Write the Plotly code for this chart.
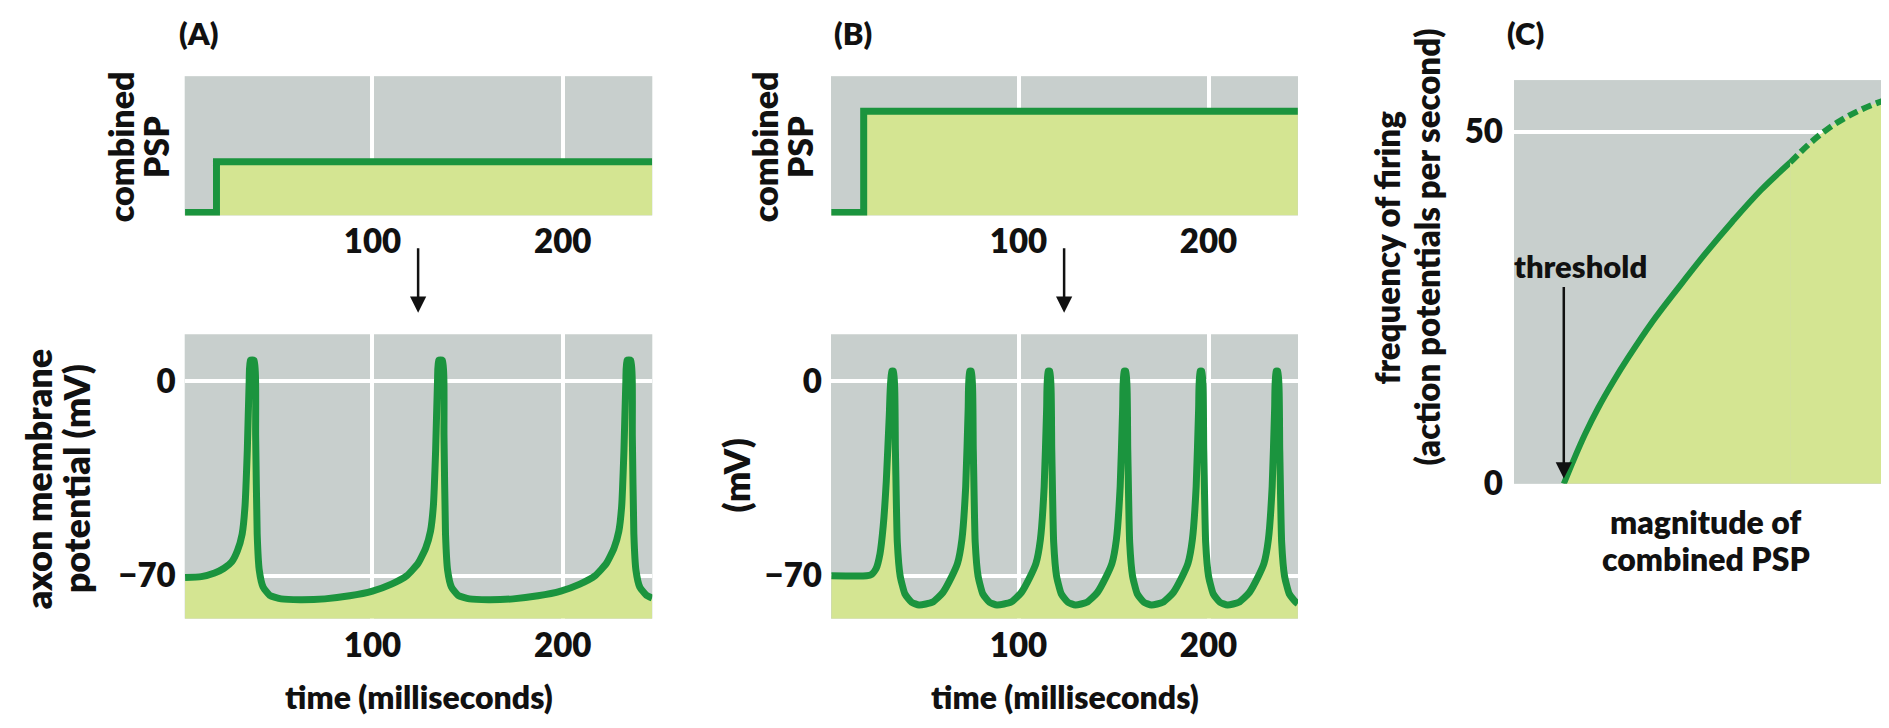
import plotly.graph_objects as go

W, H = 1889, 728

# ---------------- data ----------------
psp_time_A = [1.5, 18.0, 247.0]
psp_A = [0, 1, 1]
psp_time_B = [1.5, 18.5, 247.0]
psp_B = [0, 2, 2]

vA_t = [1.5, 10, 17, 22, 26, 29, 31.5, 33, 34.2, 35.2, 35.8, 37.8, 38.6, 39.4, 40.5, 42.5, 46, 52, 62, 75,
        88, 100, 110, 118, 124, 128, 130.5, 132, 133.2, 134.2, 134.8, 136.8, 137.6, 138.4, 139.5, 141.5,
        145, 151, 161, 174, 187, 199, 209, 217, 223, 227, 229.5, 231, 232.2, 233.2, 233.8, 235.8, 236.6,
        237.4, 238.5, 240.5, 244, 247]
vA_mv = [-70.6, -70.3, -69, -67.3, -65, -61, -55, -45, -25, 0, 7.4, 7.4, -20, -55, -68, -74, -77, -78.3, -78.6, -78.3,
         -77.2, -75.5, -73, -70, -65.5, -60, -54, -45, -25, 0, 7.4, 7.4, -20, -55, -68, -74,
         -77, -78.3, -78.6, -78.3, -77.2, -75.5, -73, -70, -65.5, -60, -54, -45, -25, 0, 7.4, 7.4, -20,
         -55, -68, -74, -77, -78]

vB_t = [1.5, 20, 22.7, 25, 27.1, 28.8, 30.4, 32, 33.2, 34.2,
        35.2, 36.2, 37.7, 40.2, 43.7, 47.7,
        54.7, 60.2, 64.7, 67.9, 70.2, 72.2, 73.5, 74.2, 75.2,
        76.2, 77.2, 78.7, 81.2, 84.7, 88.7,
        96, 101.5, 106, 109.2, 111.5, 113.5, 114.8, 115.5, 116.5,
        117.5, 118.5, 120, 122.5, 126, 130,
        136, 141.5, 146, 149.2, 151.5, 153.5, 154.8, 155.5, 156.5,
        157.5, 158.5, 160, 162.5, 166, 170,
        176, 181.5, 186, 189.2, 191.5, 193.5, 194.8, 195.5, 196.5,
        197.5, 198.5, 200, 202.5, 206, 210,
        216, 221.5, 226, 229.2, 231.5, 233.5, 234.8, 235.5, 236.5,
        237.5, 238.5, 240, 242.5, 246, 247]
vB_mv = [-70, -70, -69.5, -67.5, -62, -52, -36, -12, 3.5, 3.5,
         -25, -58, -70, -76.5, -79.5, -80.5,
         -79.5, -76, -70.5, -65.5, -57, -38, -10, 3.5, 3.5,
         -25, -58, -70, -76.5, -79.5, -80.5,
         -79.5, -76, -70.5, -65.5, -57, -38, -10, 3.5, 3.5,
         -25, -58, -70, -76.5, -79.5, -80.5,
         -79.5, -76, -70.5, -65.5, -57, -38, -10, 3.5, 3.5,
         -25, -58, -70, -76.5, -79.5, -80.5,
         -79.5, -76, -70.5, -65.5, -57, -38, -10, 3.5, 3.5,
         -25, -58, -70, -76.5, -79.5, -80.5,
         -79.5, -76, -70.5, -65.5, -57, -38, -10, 3.5, 3.5,
         -25, -58, -70, -76.5, -79.5, -80]

c_mag_solid = [13, 15.5, 18.5, 22, 26, 29.8, 36, 43.3, 50, 57, 64.5, 72.1]
c_freq_solid = [0, 3.3, 7.0, 10.8, 14.6, 17.9, 22.9, 28.1, 32.7, 37.2, 41.7, 45.6]
c_mag_dash = [72.1, 77, 81.5, 86, 91, 96, 100]
c_freq_dash = [45.6, 48.2, 50.2, 51.8, 53.2, 54.3, 55.0]
threshold_mag = 13

time_ticks = [100, 200]
mv_ticks = [0, -70]
mv_ticktext = ["0", "\u221270"]
freq_ticks = [0, 50]
arrow_time = 124

# ---------------- style ----------------
GRAY = "#c8cfcd"
FILL = "#d4e592"
LINE = "#1b943e"
TXT = "#111111"
FONT = "Lato"
WEIGHT = 800
LW = 7

t_range = [1.3, 247.1]
psp_range = [-0.058, 2.69]
mv_range = [-85.4, 16.8]
c_x_range = [0, 100]
c_y_range = [0, 57.3]


def px_x(p):
    return p / W


def px_y(p):
    return 1 - p / H


fig = go.Figure()

# A top
fig.add_trace(go.Scatter(x=[psp_time_A[0], psp_time_A[-1]], y=[psp_range[0]] * 2, mode="lines",
                         line=dict(width=0), hoverinfo="skip", showlegend=False, xaxis="x", yaxis="y"))
fig.add_trace(go.Scatter(x=psp_time_A, y=psp_A, mode="lines", line=dict(color=LINE, width=LW, shape="hv"),
                         fill="tonexty", fillcolor=FILL, showlegend=False, xaxis="x", yaxis="y"))
# A bottom
fig.add_trace(go.Scatter(x=[vA_t[0], vA_t[-1]], y=[mv_range[0]] * 2, mode="lines",
                         line=dict(width=0), hoverinfo="skip", showlegend=False, xaxis="x2", yaxis="y2"))
fig.add_trace(go.Scatter(x=vA_t, y=vA_mv, mode="lines",
                         line=dict(color=LINE, width=LW, shape="spline", smoothing=0.5),
                         fill="tonexty", fillcolor=FILL, showlegend=False, xaxis="x2", yaxis="y2"))
# B top
fig.add_trace(go.Scatter(x=[psp_time_B[0], psp_time_B[-1]], y=[psp_range[0]] * 2, mode="lines",
                         line=dict(width=0), hoverinfo="skip", showlegend=False, xaxis="x3", yaxis="y3"))
fig.add_trace(go.Scatter(x=psp_time_B, y=psp_B, mode="lines", line=dict(color=LINE, width=LW, shape="hv"),
                         fill="tonexty", fillcolor=FILL, showlegend=False, xaxis="x3", yaxis="y3"))
# B bottom
fig.add_trace(go.Scatter(x=[vB_t[0], vB_t[-1]], y=[mv_range[0]] * 2, mode="lines",
                         line=dict(width=0), hoverinfo="skip", showlegend=False, xaxis="x4", yaxis="y4"))
fig.add_trace(go.Scatter(x=vB_t, y=vB_mv, mode="lines",
                         line=dict(color=LINE, width=LW, shape="spline", smoothing=0.5),
                         fill="tonexty", fillcolor=FILL, showlegend=False, xaxis="x4", yaxis="y4"))
# C
fig.add_trace(go.Scatter(x=c_mag_solid, y=c_freq_solid, mode="lines",
                         line=dict(color=LINE, width=6, shape="spline"),
                         fill="tozeroy", fillcolor=FILL, showlegend=False, xaxis="x5", yaxis="y5"))
fig.add_trace(go.Scatter(x=c_mag_dash, y=c_freq_dash, mode="lines",
                         line=dict(color=LINE, width=6, shape="spline", dash="10px,5px"),
                         fill="tozeroy", fillcolor=FILL, showlegend=False, xaxis="x5", yaxis="y5"))

tickfont = dict(family=FONT, size=33, color=TXT, weight=WEIGHT)

A_x = [px_x(176.7), px_x(644.3)]
B_x = [px_x(823), px_x(1290)]
TOP_y = [px_y(213), px_y(70)]
BOT_y = [px_y(627), px_y(335)]
C_x = [px_x(1506), 1.0]
C_y = [px_y(488.6), px_y(74)]


def xa(domain, anchor, show=True):
    return dict(domain=domain, anchor=anchor, range=t_range, tickvals=time_ticks, showgrid=True,
                gridcolor="white", gridwidth=4, zeroline=False, showline=False, showticklabels=show,
                tickfont=tickfont, ticks="", ticklabelstandoff=4, fixedrange=True)


fig.update_layout(
    width=W, height=H, margin=dict(l=0, r=0, t=0, b=0),
    paper_bgcolor="white", plot_bgcolor=GRAY, showlegend=False,
    xaxis=xa(A_x, "y"),
    yaxis=dict(domain=TOP_y, anchor="x", range=psp_range, showgrid=False, zeroline=False,
               showticklabels=False, fixedrange=True),
    xaxis2=xa(A_x, "y2"),
    yaxis2=dict(domain=BOT_y, anchor="x2", range=mv_range, tickvals=mv_ticks, ticktext=mv_ticktext,
                showgrid=True, gridcolor="white", gridwidth=4, zeroline=False, tickfont=tickfont,
                ticks="", ticklabelstandoff=8, fixedrange=True),
    xaxis3=xa(B_x, "y3"),
    yaxis3=dict(domain=TOP_y, anchor="x3", range=psp_range, showgrid=False, zeroline=False,
                showticklabels=False, fixedrange=True),
    xaxis4=xa(B_x, "y4"),
    yaxis4=dict(domain=BOT_y, anchor="x4", range=mv_range, tickvals=mv_ticks, ticktext=mv_ticktext,
                showgrid=True, gridcolor="white", gridwidth=4, zeroline=False, tickfont=tickfont,
                ticks="", ticklabelstandoff=8, fixedrange=True),
    xaxis5=dict(domain=C_x, anchor="y5", range=c_x_range, showgrid=False, zeroline=False,
                showticklabels=False, fixedrange=True),
    yaxis5=dict(domain=C_y, anchor="x5", range=c_y_range, tickvals=freq_ticks, showgrid=True,
                gridcolor="white", gridwidth=4, zeroline=False, tickfont=tickfont, ticks="",
                ticklabelstandoff=10, fixedrange=True),
)

ann = []


def label(text, x, y, size=32, angle=0):
    ann.append(dict(text=text, x=px_x(x), y=px_y(y), xref="paper", yref="paper", showarrow=False,
                    xanchor="center", yanchor="middle", textangle=angle,
                    font=dict(family=FONT, size=size, color=TXT, weight=WEIGHT)))


label("(A)", 190, 26, size=31)
label("(B)", 845, 26, size=31)
label("(C)", 1517, 26, size=31)
label("combined", 112, 143, size=34, angle=-90)
label("PSP", 147, 143, size=34, angle=-90)
label("combined", 756, 143, size=34, angle=-90)
label("PSP", 791, 143, size=34, angle=-90)
label("axon membrane", 30, 484, size=36, angle=-90)
label("potential (mV)", 68, 484, size=36, angle=-90)
label("(mV)", 728, 480, size=36, angle=-90)
label("time (milliseconds)", 410.5, 707)
label("time (milliseconds)", 1056.5, 707)
label("frequency of firing", 1379, 246, size=33, angle=-90)
label("(action potentials per second)", 1419, 246, size=33, angle=-90)
label("magnitude of", 1697.7, 527)
label("combined PSP", 1697.7, 565)
label("threshold", 1572, 265, size=31)

for xr in ["x", "x3"]:
    ann.append(dict(text="", x=arrow_time, y=px_y(313), xref=xr, yref="paper", showarrow=True,
                    ax=0, ay=-66, axref="pixel", ayref="pixel", arrowhead=2, arrowsize=1.3,
                    arrowwidth=2.5, arrowcolor=TXT))
ann.append(dict(text="", x=threshold_mag, y=px_y(483), xref="x5", yref="paper", showarrow=True,
                ax=0, ay=-193, arrowhead=2, arrowsize=1.3, arrowwidth=2.5, arrowcolor=TXT))

fig.update_layout(annotations=ann)

fig.write_html("out.html")
